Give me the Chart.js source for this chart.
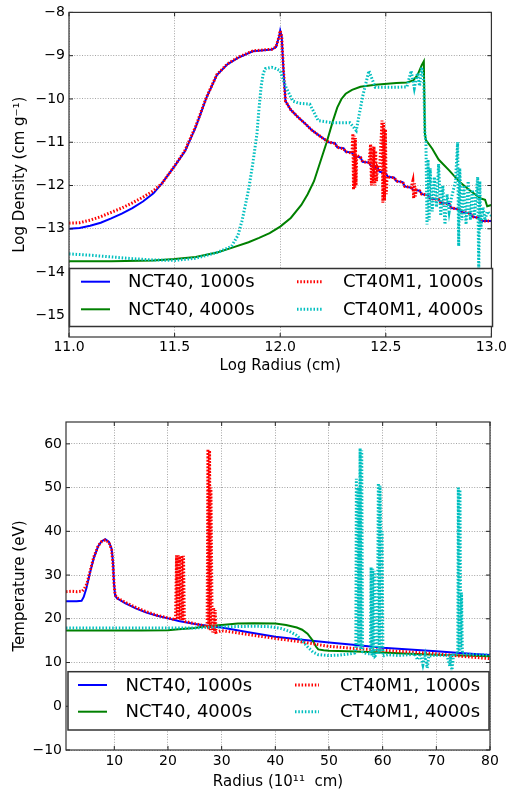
<!DOCTYPE html>
<html><head><meta charset="utf-8">
<script src="https://cdn.jsdelivr.net/npm/chart.js@4/dist/chart.umd.min.js"></script>
<style>
html,body{margin:0;padding:0;background:#fff;width:509px;height:795px;overflow:hidden}
#c1{position:absolute;left:0;top:0}
#c2{position:absolute;left:0;top:395px}
</style></head><body>
<canvas id="c1" width="509" height="380"></canvas>
<canvas id="c2" width="509" height="400"></canvas>
<script>
// ---------- DATA ----------
const seriesLabels = ['NCT40, 1000s', 'NCT40, 4000s', 'CT40M1, 1000s', 'CT40M1, 4000s'];

const logRadiusTicks = [11.0, 11.5, 12.0, 12.5, 13.0];
const logDensityTicks = [-15, -14, -13, -12, -11, -10, -9, -8];
const radiusTicks = [10, 20, 30, 40, 50, 60, 70, 80];
const temperatureTicks = [-10, 0, 10, 20, 30, 40, 50, 60];

// Top panel: [log radius, log density]
const densNCT40_1000 = [[11.00,-13.00],[11.05,-12.98],[11.10,-12.93],[11.15,-12.86],[11.20,-12.76],[11.25,-12.65],[11.30,-12.52],[11.35,-12.37],[11.40,-12.18],[11.44,-11.95],[11.50,-11.55],[11.55,-11.20],[11.60,-10.65],[11.65,-9.98],[11.70,-9.45],[11.75,-9.20],[11.80,-9.05],[11.87,-8.90],[11.96,-8.86],[11.98,-8.80],[11.995,-8.55],[12.00,-8.42],[12.007,-8.55],[12.015,-9.30],[12.025,-10.05],[12.05,-10.25],[12.08,-10.40],[12.12,-10.58],[12.15,-10.72],[12.18,-10.83],[12.20,-10.90],[12.23,-11.00],[12.26,-11.02],[12.27,-11.12],[12.30,-11.14],[12.31,-11.22],[12.34,-11.24],[12.35,-11.32],[12.38,-11.35],[12.39,-11.45],[12.42,-11.47],[12.43,-11.55],[12.46,-11.58],[12.47,-11.68],[12.50,-11.72],[12.51,-11.80],[12.54,-11.82],[12.55,-11.90],[12.58,-11.92],[12.59,-12.02],[12.62,-12.05],[12.63,-12.10],[12.66,-12.12],[12.67,-12.20],[12.70,-12.22],[12.71,-12.30],[12.75,-12.32],[12.76,-12.40],[12.80,-12.42],[12.81,-12.52],[12.85,-12.55],[12.86,-12.62],[12.90,-12.64],[12.91,-12.72],[12.94,-12.75],[12.95,-12.82],[13.00,-12.82]];

const densNCT40_4000 = [[11.00,-13.75],[11.20,-13.75],[11.40,-13.73],[11.50,-13.70],[11.60,-13.65],[11.70,-13.55],[11.77,-13.44],[11.85,-13.31],[11.90,-13.21],[11.95,-13.10],[12.00,-12.95],[12.05,-12.75],[12.10,-12.45],[12.13,-12.20],[12.16,-11.90],[12.19,-11.45],[12.22,-11.00],[12.25,-10.50],[12.27,-10.20],[12.29,-10.00],[12.31,-9.88],[12.34,-9.79],[12.38,-9.72],[12.45,-9.67],[12.55,-9.63],[12.60,-9.62],[12.63,-9.57],[12.65,-9.45],[12.67,-9.22],[12.68,-9.13],[12.685,-10.80],[12.69,-10.95],[12.72,-11.15],[12.75,-11.40],[12.80,-11.65],[12.85,-11.92],[12.90,-12.12],[12.95,-12.30],[12.97,-12.33],[12.98,-12.48],[13.00,-12.45]];

const densCT40M1_1000 = [[11.00,-12.87],[11.05,-12.86],[11.10,-12.80],[11.15,-12.72],[11.20,-12.62],[11.25,-12.52],[11.30,-12.40],[11.35,-12.27],[11.40,-12.12],[11.44,-11.95],[11.50,-11.55],[11.55,-11.18],[11.60,-10.63],[11.65,-9.97],[11.70,-9.44],[11.75,-9.19],[11.80,-9.04],[11.87,-8.89],[11.96,-8.85],[11.98,-8.80],[11.995,-8.55],[12.00,-8.42],[12.007,-8.55],[12.015,-9.30],[12.025,-10.05],[12.05,-10.25],[12.08,-10.40],[12.12,-10.58],[12.15,-10.72],[12.18,-10.83],[12.20,-10.90],[12.23,-11.00],[12.26,-11.03],[12.27,-11.12],[12.30,-11.15],[12.31,-11.22],[12.34,-11.25],[12.344,-10.80],[12.347,-12.10],[12.350,-10.85],[12.353,-12.05],[12.356,-10.90],[12.359,-12.00],[12.362,-11.30],[12.38,-11.35],[12.39,-11.45],[12.42,-11.47],[12.428,-11.05],[12.432,-12.00],[12.436,-11.10],[12.440,-11.95],[12.444,-11.10],[12.448,-12.00],[12.452,-11.20],[12.456,-11.90],[12.46,-11.58],[12.47,-11.68],[12.482,-10.50],[12.486,-12.40],[12.490,-10.55],[12.494,-12.35],[12.498,-10.70],[12.502,-12.20],[12.506,-11.80],[12.51,-11.80],[12.54,-11.82],[12.55,-11.90],[12.58,-11.92],[12.59,-12.02],[12.62,-12.05],[12.628,-11.90],[12.632,-12.30],[12.636,-11.95],[12.640,-12.25],[12.644,-12.10],[12.66,-12.12],[12.67,-12.20],[12.70,-12.22],[12.71,-12.30],[12.75,-12.32],[12.76,-12.40],[12.80,-12.42],[12.81,-12.52],[12.85,-12.55],[12.86,-12.62],[12.90,-12.64],[12.91,-12.72],[12.94,-12.75],[12.95,-12.82],[13.00,-12.82]];

const densCT40M1_4000 = [[11.00,-13.58],[11.10,-13.61],[11.20,-13.65],[11.30,-13.69],[11.40,-13.72],[11.50,-13.73],[11.60,-13.68],[11.70,-13.55],[11.75,-13.45],[11.77,-13.40],[11.80,-13.15],[11.82,-12.80],[11.85,-12.10],[11.87,-11.50],[11.89,-10.80],[11.90,-10.20],[11.91,-9.70],[11.92,-9.40],[11.93,-9.30],[11.96,-9.27],[11.98,-9.30],[12.00,-9.35],[12.027,-9.73],[12.06,-10.05],[12.09,-10.10],[12.14,-10.12],[12.18,-10.50],[12.25,-10.55],[12.33,-10.55],[12.36,-10.73],[12.39,-9.95],[12.42,-9.35],[12.45,-9.73],[12.50,-9.73],[12.55,-9.73],[12.60,-9.72],[12.62,-9.35],[12.635,-9.75],[12.65,-9.40],[12.66,-9.70],[12.67,-9.27],[12.68,-9.60],[12.685,-10.80],[12.69,-11.00],[12.695,-12.90],[12.70,-11.40],[12.705,-12.80],[12.71,-11.60],[12.72,-12.60],[12.73,-11.80],[12.74,-12.50],[12.75,-11.50],[12.76,-12.70],[12.77,-12.00],[12.78,-12.90],[12.79,-12.20],[12.80,-12.60],[12.81,-12.30],[12.83,-11.90],[12.84,-11.00],[12.845,-13.40],[12.85,-11.60],[12.86,-12.80],[12.87,-12.00],[12.88,-12.90],[12.89,-11.90],[12.90,-12.80],[12.91,-12.10],[12.92,-12.70],[12.935,-11.80],[12.94,-14.00],[12.945,-11.90],[12.95,-13.00],[12.96,-12.50],[12.97,-12.80],[12.98,-12.60],[13.00,-12.70]];

// Bottom panel: [radius (1e11 cm), temperature (eV)]
const tempNCT40_1000 = [[1,24.0],[2,24.0],[3,24.0],[3.9,24.1],[4.3,25.0],[4.8,27.0],[5.45,30.4],[6.2,34.0],[7.0,36.6],[7.6,37.7],[8.3,38.2],[9.0,37.6],[9.5,36.0],[9.75,33.0],[9.95,28.0],[10.15,25.3],[10.5,24.7],[12,23.6],[14,22.4],[16,21.4],[18,20.7],[20,20.1],[22,19.5],[25,18.8],[28,18.3],[30,18.0],[35,16.9],[40,15.9],[45,15.2],[50,14.6],[55,14.0],[60,13.4],[65,13.0],[70,12.6],[75,12.1],[80,11.7]];

const tempNCT40_4000 = [[1,17.3],[5,17.3],[10,17.3],[15,17.3],[20,17.4],[22,17.6],[25,17.9],[27,18.3],[30,18.6],[33,18.9],[36,19.0],[40,18.9],[42,18.6],[44,18.0],[45,17.5],[46,16.6],[47,15.0],[47.6,13.6],[48,13.0],[49,12.8],[50,12.7],[55,12.5],[60,12.3],[65,12.0],[70,11.8],[75,11.6],[80,11.45]];

const tempCT40M1_1000 = [[1,26.2],[2,26.3],[3,26.2],[4,26.3],[4.4,26.8],[4.9,28.0],[5.5,31.0],[6.2,34.2],[7.0,36.7],[7.6,37.6],[8.3,38.0],[9.0,37.5],[9.5,35.8],[9.75,32.5],[9.95,28.0],[10.15,25.5],[10.5,24.8],[12,23.8],[14,22.6],[16,21.6],[18,20.8],[20,20.2],[21.4,19.8],[21.6,34.5],[21.75,19.9],[21.9,34.5],[22.05,19.8],[22.2,34.3],[22.35,19.7],[22.6,34.5],[22.75,19.6],[22.9,34.4],[23.05,19.6],[23.2,19.4],[25,18.9],[27.3,18.2],[27.45,58.8],[27.6,17.6],[27.75,58.5],[27.9,17.4],[28.0,50.0],[28.2,22.8],[28.35,16.9],[28.5,22.6],[28.65,16.8],[28.8,22.0],[28.95,16.9],[30,17.3],[35,16.4],[40,15.5],[45,14.7],[50,13.7],[55,13.2],[60,12.8],[65,12.4],[70,12.0],[75,11.4],[80,10.9]];

const tempCT40M1_4000 = [[1,17.9],[5,17.9],[10,17.9],[15,17.9],[20,17.9],[25,17.9],[28,18.1],[32,18.2],[36,18.3],[39,18.2],[41,17.8],[42.5,17.2],[44,16.2],[45,15.0],[46,13.6],[47,12.4],[48,11.8],[50,11.6],[52,11.7],[54,12.0],[54.8,12.2],[55.0,13.0],[55.1,52.0],[55.25,13.5],[55.4,50.0],[55.55,14.0],[55.8,59.0],[55.95,13.0],[56.1,58.5],[56.25,12.5],[57,12.0],[57.7,12.0],[57.85,31.8],[58.0,11.5],[58.15,31.5],[58.3,11.3],[58.45,31.0],[58.6,11.5],[59.0,12.0],[59.2,51.0],[59.35,12.0],[59.5,50.5],[59.65,40.0],[59.8,12.5],[59.9,40.0],[60.05,11.5],[61,11.8],[63,11.6],[65,11.8],[66,12.0],[66.5,10.6],[67,12.0],[67.5,9.5],[67.9,11.6],[68.3,8.7],[68.6,11.5],[70,11.7],[72,11.6],[72.5,9.2],[72.7,11.8],[72.9,7.9],[73.2,11.8],[74,12.0],[74.1,50.0],[74.25,12.5],[74.4,49.5],[74.55,13.0],[74.7,26.0],[74.85,12.0],[76,11.9],[78,11.8],[80,11.7]];

// ---------- RENDERING ----------
Chart.defaults.font.family = 'DejaVu Sans';
Chart.defaults.color = '#000';

const toXY = arr => arr.map(p => ({x: p[0], y: p[1]}));
const minus = s => String(s).replace('-', '\u2212');

const styles = [
  {borderColor: '#0000ff', borderWidth: 2, borderDash: [], order: 4},
  {borderColor: '#008000', borderWidth: 2, borderDash: [], order: 3},
  {borderColor: '#ff0000', borderWidth: 3, borderDash: [1.5, 1.8], order: 2},
  {borderColor: '#00bfbf', borderWidth: 3, borderDash: [1.5, 1.8], order: 1}
];

const framePlugin = {
  id: 'frame',
  afterDraw(chart, args, o) {
    const ctx = chart.ctx, a = chart.chartArea;
    const xs = chart.scales.x, ys = chart.scales.y;
    ctx.save();
    ctx.setLineDash([]);
    ctx.strokeStyle = '#222';
    ctx.lineWidth = 1;
    ctx.beginPath();
    xs.ticks.forEach(t => {
      const p = xs.getPixelForValue(t.value);
      ctx.moveTo(p, a.bottom); ctx.lineTo(p, a.bottom - 4);
      ctx.moveTo(p, a.top); ctx.lineTo(p, a.top + 4);
    });
    ys.ticks.forEach(t => {
      const p = ys.getPixelForValue(t.value);
      ctx.moveTo(a.left, p); ctx.lineTo(a.left + 4, p);
      ctx.moveTo(a.right, p); ctx.lineTo(a.right - 4, p);
    });
    ctx.stroke();
    ctx.strokeStyle = '#333';
    ctx.lineWidth = 1.2;
    ctx.strokeRect(a.left, a.top, a.right - a.left, a.bottom - a.top);

    // legend
    const b = o.box;
    ctx.fillStyle = '#fff';
    ctx.fillRect(b[0], b[1], b[2] - b[0], b[3] - b[1]);
    ctx.strokeStyle = '#333';
    ctx.lineWidth = 1.5;
    ctx.strokeRect(b[0], b[1], b[2] - b[0], b[3] - b[1]);
    ctx.font = '18px "DejaVu Sans"';
    ctx.textBaseline = 'middle';
    ctx.textAlign = 'left';
    chart.data.datasets.forEach((ds, i) => {
      const col = i < 2 ? 0 : 1, row = i % 2;
      const y = o.rowY[row];
      ctx.beginPath();
      ctx.strokeStyle = ds.borderColor;
      ctx.lineWidth = ds.borderWidth;
      ctx.setLineDash(ds.borderDash);
      ctx.moveTo(o.lineX[col][0], y);
      ctx.lineTo(o.lineX[col][1], y);
      ctx.stroke();
      ctx.setLineDash([]);
      ctx.fillStyle = '#000';
      ctx.fillText(ds.label, o.textX[col], y + 1);
    });
    ctx.restore();
  }
};

function makeChart(id, series, xr, yr, xTicks, yTicks, xFmt, xTitle, yTitle, pad, xH, yW, xTitlePad, legend, xTickPad) {
  const tickFont = {size: 14};
  const titleFont = {size: 15};
  const gridOpts = {color: 'rgba(0,0,0,0.45)', lineWidth: 0.8, drawTicks: false};
  return new Chart(document.getElementById(id), {
    type: 'line',
    data: {
      datasets: series.map((s, i) => Object.assign({
        label: seriesLabels[i], data: toXY(s), pointRadius: 0, fill: false,
        tension: 0, borderCapStyle: 'butt', borderJoinStyle: 'miter'
      }, styles[i]))
    },
    options: {
      responsive: false, animation: false, events: [],
      layout: {padding: pad},
      plugins: {legend: {display: false}, tooltip: {enabled: false}, frame: legend},
      scales: {
        x: {
          type: 'linear', min: xr[0], max: xr[1],
          afterBuildTicks: s => { s.ticks = xTicks.map(v => ({value: v})); },
          afterFit: s => { s.height = xH; },
          ticks: {font: tickFont, color: '#000', padding: xTickPad, maxRotation: 0, autoSkip: false, callback: v => xFmt(v)},
          grid: gridOpts,
          border: {display: false, dash: [1, 1.6]},
          title: {display: true, text: xTitle, font: titleFont, color: '#000', padding: {top: 0, bottom: xTitlePad}}
        },
        y: {
          type: 'linear', min: yr[0], max: yr[1],
          afterBuildTicks: s => { s.ticks = yTicks.map(v => ({value: v})); },
          afterFit: s => { s.width = yW; },
          ticks: {font: tickFont, color: '#000', padding: 4, autoSkip: false, callback: v => minus(v)},
          grid: gridOpts,
          border: {display: false, dash: [1, 1.6]},
          title: {display: true, text: yTitle, font: titleFont, color: '#000', padding: {top: 11, bottom: 0}}
        }
      }
    },
    plugins: [framePlugin]
  });
}

makeChart('c1',
  [densNCT40_1000, densNCT40_4000, densCT40M1_1000, densCT40M1_4000],
  [11, 13], [-15.5, -8], logRadiusTicks, logDensityTicks,
  v => v.toFixed(1), 'Log Radius (cm)', 'Log Density (cm g\u207B\u00B9)',
  {top: 8, right: 16, left: 0, bottom: 0}, 43, 69, 5,
  {box: [69.5, 268.5, 492.5, 326.5], lineX: [[81, 110], [297, 322]], textX: [128, 343], rowY: [281.7, 309.3]}, 2);

makeChart('c2',
  [tempNCT40_1000, tempNCT40_4000, tempCT40M1_1000, tempCT40M1_4000],
  [1, 80], [-10, 65], radiusTicks, temperatureTicks,
  v => String(v), 'Radius (10\u00B9\u00B9  cm)', 'Temperature (eV)',
  {top: 27, right: 19, left: 0, bottom: 0}, 45, 66, 3.5,
  {box: [68, 276.7, 489, 335], lineX: [[78, 107], [295, 319]], textX: [125.5, 340], rowY: [290, 316.7]}, 3);
</script>
</body></html>
